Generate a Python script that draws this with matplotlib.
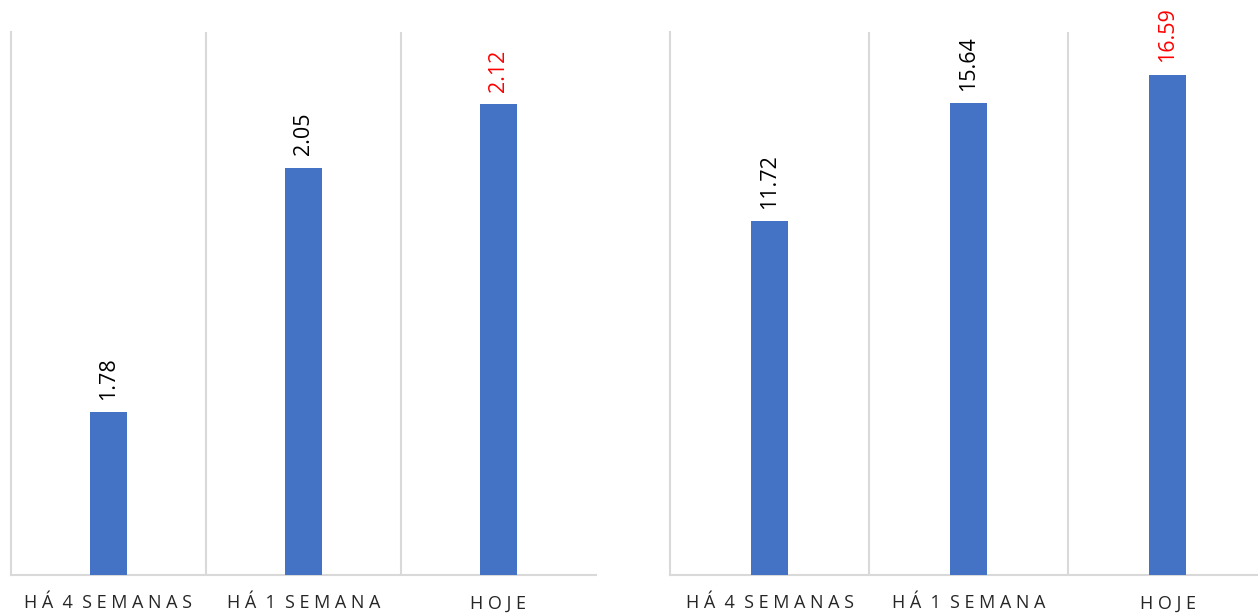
import matplotlib
matplotlib.use("Agg")
import matplotlib.pyplot as plt

categories = ["HÁ 4 SEMANAS", "HÁ 1 SEMANA", "HOJE"]
left_values = [1.78, 2.05, 2.12]
right_values = [11.72, 15.64, 16.59]
label_colors = ["black", "black", "red"]

bar_color = "#4472C4"
grid_color = "#D9D9D9"

plt.rcParams["font.family"] = ["Open Sans", "DejaVu Sans"]


def spread(s):
    # fake Excel letter spacing
    return "  ".join(" ".join(w) for w in s.split(" "))


fig = plt.figure(figsize=(12.58, 6.15), dpi=100)
ax1 = fig.add_axes([11 / 1258, 40 / 615, 585 / 1258, 543 / 615])
ax2 = fig.add_axes([670 / 1258, 40 / 615, 597 / 1258, 543 / 615])


def draw(ax, values, ylim, fmt):
    x = range(len(categories))
    ax.bar(x, values, width=0.185, color=bar_color, zorder=3)
    ax.set_xlim(-0.5, len(categories) - 0.5)
    ax.set_ylim(*ylim)
    for b in [0.5, 1.5]:
        ax.axvline(b, color=grid_color, lw=1.5, zorder=1)
    for s in ["top", "right"]:
        ax.spines[s].set_visible(False)
    ax.spines["left"].set_color(grid_color)
    ax.spines["left"].set_linewidth(1.5)
    ax.spines["bottom"].set_color(grid_color)
    ax.spines["bottom"].set_linewidth(1.5)
    ax.set_yticks([])
    ax.set_xticks(list(x))
    ax.set_xticklabels([spread(c) for c in categories], fontsize=13, color="#262626")
    ax.tick_params(axis="x", length=0, pad=14)
    for i, v in enumerate(values):
        ax.annotate(fmt.format(v), (i, v), xytext=(0, 9), textcoords="offset points",
                    rotation=90, ha="center", va="bottom", fontsize=15.5,
                    color=label_colors[i])


draw(ax1, left_values, (1.6, 2.2), "{:.2f}")
draw(ax2, right_values, (0, 18), "{:.2f}")

fig.savefig("out.png", dpi=100)
